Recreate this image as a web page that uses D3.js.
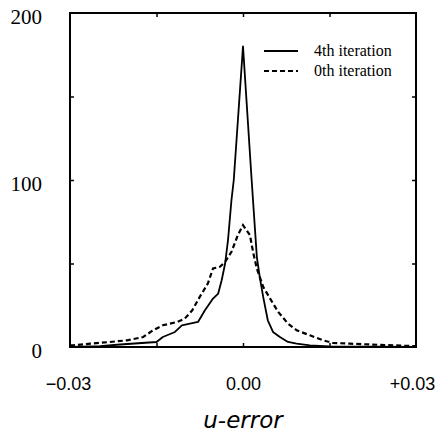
<!DOCTYPE html>
<html>
<head>
<meta charset="utf-8">
<script src="https://cdn.jsdelivr.net/npm/d3@7"></script>
<style>
	body { margin: 0; background: #fff; }
	svg { display: block; }
</style>
</head>
<body>
<div id="chart"></div>
<script>
// u-error histogram, values
var iter4U = [-0.0300, -0.0248, -0.0213, -0.0150, -0.0139, -0.0118, -0.0106, -0.0092, -0.0078,
		-0.0066, -0.0052, -0.0043, -0.0037, -0.0031, -0.0026, -0.0020, -0.0016, 0.0000,
		0.0015, 0.0024, 0.0029, 0.0035, 0.0043, 0.0052, 0.0064, 0.0078, 0.0093, 0.0116,
		0.0150, 0.0300];
var iter4Count = [0, 0.5, 1.5, 3, 6, 9, 13, 14, 15,
		22, 29, 32, 40, 50, 64, 88, 100, 180,
		100, 54, 42, 30, 16, 9, 6, 3, 2, 1,
		0.3, 0];

var iter0U = [-0.0300, -0.0295, -0.0265, -0.0231, -0.0201, -0.0173, -0.0156, -0.0139, -0.0114,
		-0.0101, -0.0088, -0.0075, -0.0061, -0.0052, -0.0040, -0.0031, -0.0020, -0.0009,
		0.0000, 0.0012, 0.0018, 0.0024, 0.0035, 0.0047, 0.0061, 0.0078, 0.0093, 0.0116,
		0.0139, 0.0156, 0.0186, 0.0220, 0.0300];
var iter0Count = [1, 1, 2, 3, 4, 6, 10, 13, 15,
		17, 22, 30, 38, 47, 48, 51, 57, 67,
		73, 67, 56, 47, 36, 29, 21, 14, 10, 7,
		4, 2.4, 2, 1.5, 0.5];

var xTickMarks = [-0.015, 0, 0.015];
var xTickLabels = [-0.03, 0, 0.03];
var xTickText = ["\u22120.03", "0.00", "+0.03"];
var yTickMarks = [50, 100, 150];
var yTickLabels = [0, 100, 200];
var seriesNames = ["4th iteration", "0th iteration"];

var width = 439, height = 441;
var plotLeft = 70, plotRight = 416, plotTop = 13, plotBottom = 347;

var svg = d3.select("#chart").append("svg")
		.attr("width", width).attr("height", height);

var x = d3.scaleLinear().domain([-0.03, 0.03]).range([plotLeft, plotRight]);
var y = d3.scaleLinear().domain([0, 200]).range([plotBottom, plotTop]);

function toPoints(us, counts) {
	var pts = [];
	for (var i = 0; i < us.length; i++) {
		pts.push({ u: us[i], c: counts[i] });
	}
	return pts;
}

var line = d3.line().x(function(d) {
	return x(d.u);
}).y(function(d) {
	return y(d.c);
});

// curves
svg.append("path").attr("d", line(toPoints(iter0U, iter0Count)))
		.attr("fill", "none").attr("stroke", "#000").attr("stroke-width", 2.2)
		.attr("stroke-dasharray", "5,3");
svg.append("path").attr("d", line(toPoints(iter4U, iter4Count)))
		.attr("fill", "none").attr("stroke", "#000").attr("stroke-width", 1.8)
		.attr("stroke-linejoin", "round");

// inward ticks on all four sides
svg.append("g").attr("transform", "translate(0," + plotBottom + ")")
		.call(d3.axisBottom(x).tickValues(xTickMarks).tickSize(-4).tickFormat(""))
		.call(function(g) { g.select(".domain").remove(); });
svg.append("g").attr("transform", "translate(0," + plotTop + ")")
		.call(d3.axisTop(x).tickValues(xTickMarks).tickSize(-4).tickFormat(""))
		.call(function(g) { g.select(".domain").remove(); });
svg.append("g").attr("transform", "translate(" + plotLeft + ",0)")
		.call(d3.axisLeft(y).tickValues(yTickMarks).tickSize(-4).tickFormat(""))
		.call(function(g) { g.select(".domain").remove(); });
svg.append("g").attr("transform", "translate(" + plotRight + ",0)")
		.call(d3.axisRight(y).tickValues(yTickMarks).tickSize(-4).tickFormat(""))
		.call(function(g) { g.select(".domain").remove(); });
svg.selectAll(".tick line").attr("stroke", "#000").attr("stroke-width", 1.5);

// frame
svg.append("rect").attr("x", plotLeft).attr("y", plotTop)
		.attr("width", plotRight - plotLeft).attr("height", plotBottom - plotTop)
		.attr("fill", "none").attr("stroke", "#000").attr("stroke-width", 2);

// tick labels
var yLab = svg.append("g").attr("transform", "translate(42,0)")
		.call(d3.axisLeft(y).tickValues(yTickLabels).tickSize(0).tickPadding(0))
		.call(function(g) { g.select(".domain").remove(); });
yLab.selectAll("text").attr("font-family", "'Liberation Serif', serif")
		.attr("font-size", 21).attr("fill", "#000").attr("dy", "0.5em");

var xLab = svg.append("g").attr("transform", "translate(0,377)")
		.call(d3.axisBottom(x).tickValues(xTickLabels).tickSize(0).tickPadding(0)
				.tickFormat(function(d, i) { return xTickText[i]; }))
		.call(function(g) { g.select(".domain").remove(); });
xLab.selectAll("text").attr("font-family", "'Liberation Sans', sans-serif")
		.attr("font-size", 18).attr("fill", "#000")
		.attr("dx", function(d, i) { return i == 2 ? -4 : (i == 0 ? -2 : 0); });

svg.append("text").attr("x", x(0)).attr("y", 428).attr("text-anchor", "middle")
		.attr("font-family", "'DejaVu Sans', sans-serif").attr("font-style", "italic")
		.attr("font-size", 23).text("u-error");

// legend
var legend = svg.append("g");
seriesNames.forEach(function(name, i) {
	var ly = 51 + i * 20;
	var l = legend.append("line").attr("x1", 264).attr("x2", 298)
			.attr("y1", ly).attr("y2", ly).attr("stroke", "#000");
	if (i == 1) {
		l.attr("stroke-dasharray", "5,3").attr("stroke-width", 2.2);
	} else {
		l.attr("stroke-width", 1.8);
	}
	legend.append("text").attr("x", 314).attr("y", ly + 5)
			.attr("font-family", "'Liberation Serif', serif").attr("font-size", 16)
			.text(name);
});
</script>
</body>
</html>
